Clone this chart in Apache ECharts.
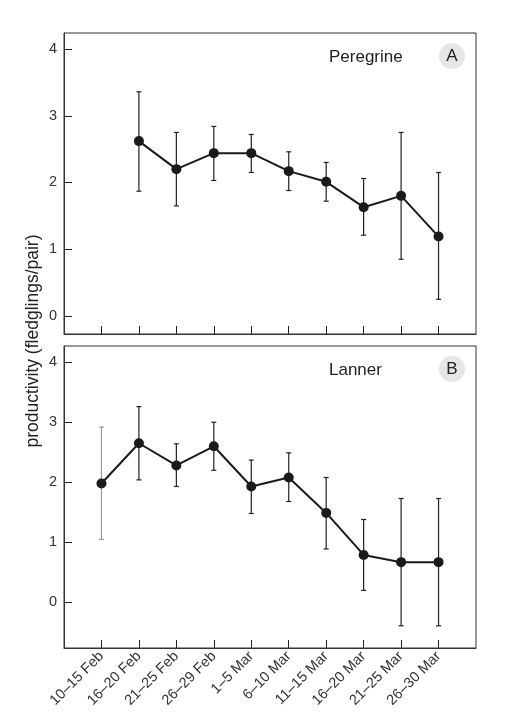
<!DOCTYPE html>
<html><head><meta charset="utf-8">
<script src="https://cdn.jsdelivr.net/npm/echarts@6/dist/echarts.min.js"></script>
<style>html,body{margin:0;padding:0;background:#fff}#c{width:510px;height:727px}</style>
</head><body><div id="c"></div>
<script>
const categories = ['10–15 Feb','16–20 Feb','21–25 Feb','26–29 Feb','1–5 Mar','6–10 Mar','11–15 Mar','16–20 Mar','21–25 Mar','26–30 Mar'];
const yTicks = [0,1,2,3,4];
const peregrineMean  = [null, 2.62, 2.20, 2.44, 2.44, 2.17, 2.01, 1.63, 1.80, 1.19];
const peregrineUpper = [null, 3.36, 2.75, 2.84, 2.72, 2.46, 2.30, 2.06, 2.75, 2.15];
const peregrineLower = [null, 1.87, 1.65, 2.03, 2.15, 1.88, 1.72, 1.21, 0.85, 0.25];
const lannerMean  = [1.98, 2.65, 2.28, 2.60, 1.93, 2.08, 1.49, 0.79, 0.67, 0.67];
const lannerUpper = [2.92, 3.26, 2.64, 3.00, 2.37, 2.49, 2.08, 1.38, 1.73, 1.73];
const lannerLower = [1.05, 2.04, 1.93, 2.20, 1.48, 1.68, 0.89, 0.20, -0.39, -0.39];

const axisCats = [''].concat(categories, ['']);
function toPoints(arr){ return arr.map((v,i)=> v==null ? [i+1, null] : [i+1, v]); }
function toBars(lo, hi){ const out=[]; lo.forEach((v,i)=>{ if(v!=null) out.push([i+1, v, hi[i]]); }); return out; }

function errRender(params, api){
  const x = api.value(0);
  const pLo = api.coord([x, api.value(1)]);
  const pHi = api.coord([x, api.value(2)]);
  const w = 2.5;
  const st = {stroke: params.dataIndex===0 && params.seriesName==='lannerErr' ? '#999' : '#222', lineWidth: 1.2};
  return {type:'group', children:[
    {type:'line', shape:{x1:pLo[0],y1:pLo[1],x2:pHi[0],y2:pHi[1]}, style:st},
    {type:'line', shape:{x1:pLo[0]-w,y1:pLo[1],x2:pLo[0]+w,y2:pLo[1]}, style:st},
    {type:'line', shape:{x1:pHi[0]-w,y1:pHi[1],x2:pHi[0]+w,y2:pHi[1]}, style:st}
  ]};
}

function xAxis(idx, showLabels){
  return {type:'category', gridIndex:idx, data:axisCats, boundaryGap:false,
    axisLine:{show:true, onZero:false, lineStyle:{color:'#333', width:1}},
    axisTick:{show:true, inside:true, length:8, lineStyle:{color:'#222'}, interval:(i)=> i>0 && i<axisCats.length-1},
    axisLabel:{show:showLabels, interval:0, rotate:45, margin:6, color:'#333', fontSize:14.5, fontFamily:'Liberation Sans, Arial, sans-serif'},
    splitLine:{show:false}};
}
function yAxis(idx, min, max){
  return {type:'value', gridIndex:idx, min:min, max:max,
    axisLine:{show:true, onZero:false, lineStyle:{color:'#333', width:1}},
    axisTick:{show:true, inside:true, length:8, lineStyle:{color:'#222'}, customValues:yTicks},
    axisLabel:{color:'#333', fontSize:14.5, margin:7, customValues:yTicks, fontFamily:'Liberation Sans, Arial, sans-serif'},
    splitLine:{show:false}};
}

const chart = echarts.init(document.getElementById('c'), null, {renderer:'canvas'});
chart.setOption({
  animation:false,
  grid:[
    {left:64, top:33, width:412, height:301, show:true, borderColor:'#333', borderWidth:1},
    {left:64, top:346, width:412, height:302, show:true, borderColor:'#333', borderWidth:1}
  ],
  xAxis:[xAxis(0,false), xAxis(1,true)],
  yAxis:[yAxis(0,-0.27,4.24), yAxis(1,-0.76,4.27)],
  series:[
    {name:'peregrineErr', type:'custom', xAxisIndex:0, yAxisIndex:0, data:toBars(peregrineLower, peregrineUpper), renderItem:errRender, z:1},
    {name:'Peregrine', type:'line', xAxisIndex:0, yAxisIndex:0, data:toPoints(peregrineMean), symbol:'circle', symbolSize:10,
      itemStyle:{color:'#1a1a1a'}, lineStyle:{color:'#1a1a1a', width:2}, z:3},
    {name:'lannerErr', type:'custom', xAxisIndex:1, yAxisIndex:1, data:toBars(lannerLower, lannerUpper), renderItem:errRender, z:1},
    {name:'Lanner', type:'line', xAxisIndex:1, yAxisIndex:1, data:toPoints(lannerMean), symbol:'circle', symbolSize:10,
      itemStyle:{color:'#1a1a1a'}, lineStyle:{color:'#1a1a1a', width:2}, z:3}
  ],
  graphic:[
    {type:'text', x:329, y:57, style:{text:'Peregrine', fill:'#222', fontSize:17, verticalAlign:'middle', fontFamily:'Liberation Sans, Arial, sans-serif'}},
    {type:'circle', shape:{cx:452, cy:56, r:13}, style:{fill:'#e6e6e6'}},
    {type:'text', x:452, y:56, style:{text:'A', fill:'#222', fontSize:17, align:'center', verticalAlign:'middle', fontFamily:'Liberation Sans, Arial, sans-serif'}},
    {type:'text', x:329, y:370, style:{text:'Lanner', fill:'#222', fontSize:17, verticalAlign:'middle', fontFamily:'Liberation Sans, Arial, sans-serif'}},
    {type:'circle', shape:{cx:452, cy:369, r:13}, style:{fill:'#e6e6e6'}},
    {type:'text', x:452, y:369, style:{text:'B', fill:'#222', fontSize:17, align:'center', verticalAlign:'middle', fontFamily:'Liberation Sans, Arial, sans-serif'}},
    {type:'text', x:33, y:341, rotation:Math.PI/2, style:{text:'productivity (fledglings/pair)', fill:'#222', fontSize:17.5, align:'center', verticalAlign:'middle', fontFamily:'Liberation Sans, Arial, sans-serif'}}
  ]
});
</script></body></html>
